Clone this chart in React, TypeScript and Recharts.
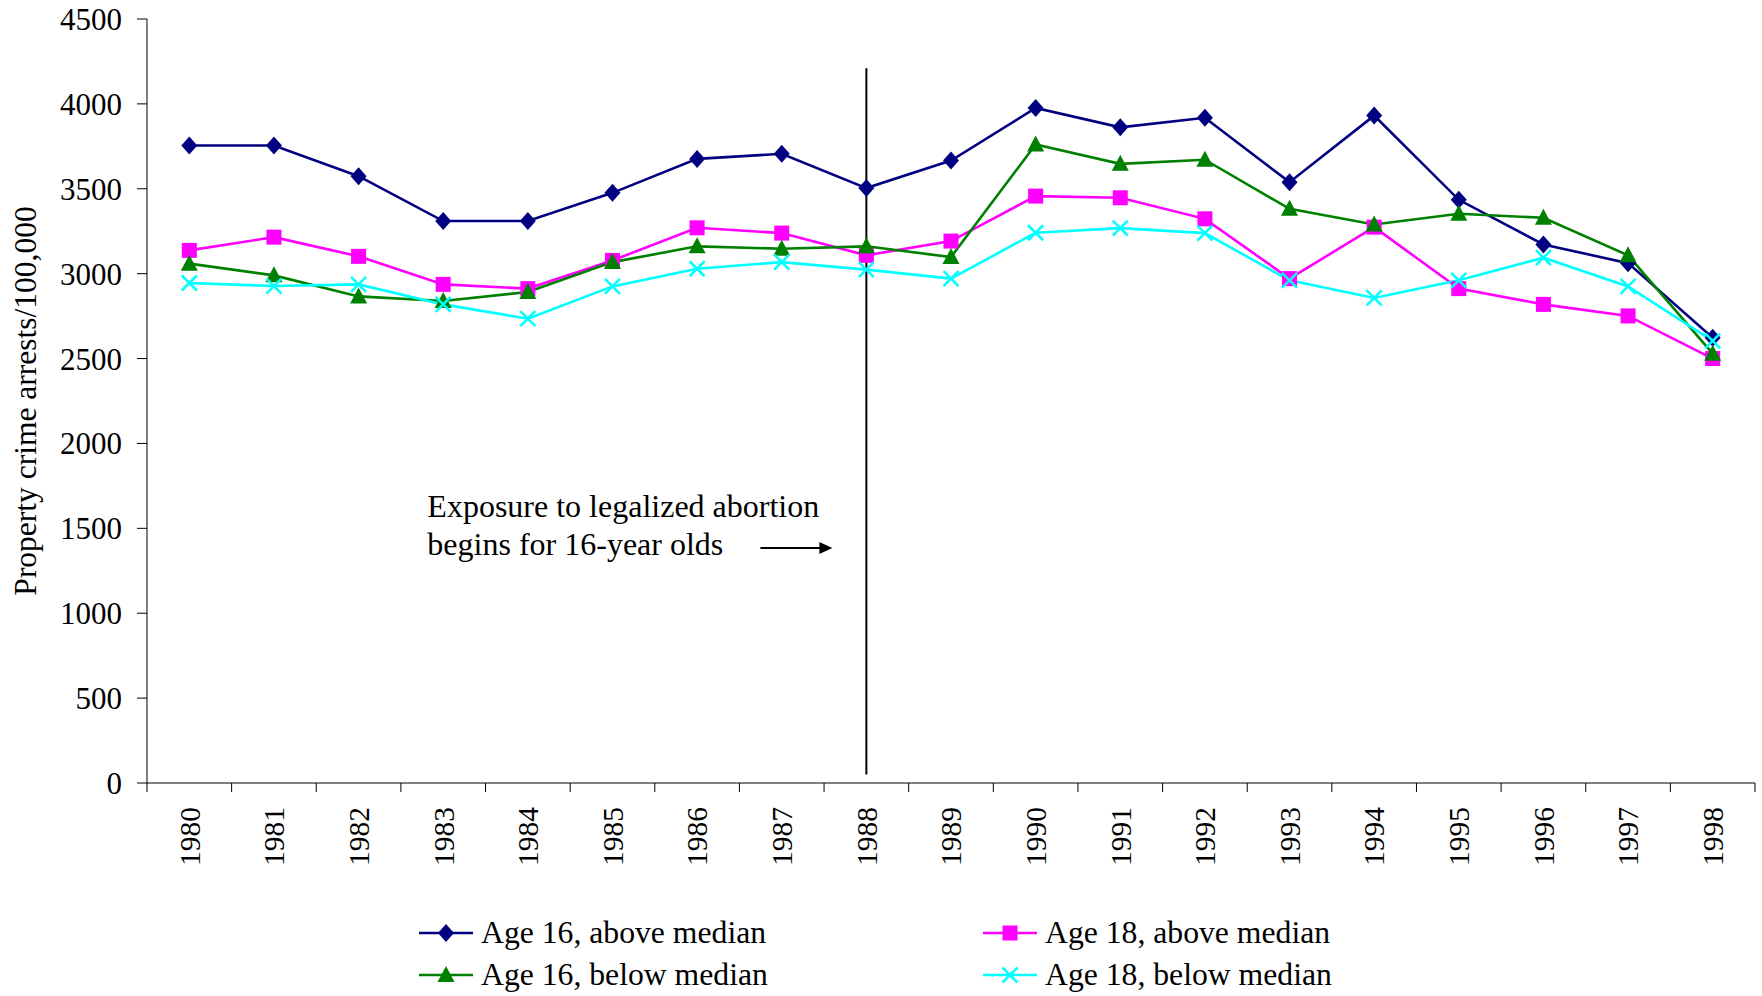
import React from 'react';
import { LineChart, Line, XAxis, YAxis, ReferenceLine, Legend } from 'recharts';

const years = ['1980', '1981', '1982', '1983', '1984', '1985', '1986', '1987', '1988', '1989',
  '1990', '1991', '1992', '1993', '1994', '1995', '1996', '1997', '1998'];
const age16Above = [3755, 3755, 3574, 3310, 3310, 3476, 3676, 3706, 3504, 3666, 3976, 3862, 3918, 3539, 3931, 3435, 3172, 3062, 2623];
const age18Above = [3137, 3215, 3102, 2937, 2912, 3078, 3270, 3239, 3108, 3192, 3457, 3447, 3323, 2971, 3274, 2912, 2819, 2751, 2500];
const age16Below = [3059, 2990, 2866, 2839, 2892, 3068, 3161, 3147, 3161, 3098, 3761, 3647, 3671, 3382, 3290, 3353, 3329, 3108, 2529];
const age18Below = [2945, 2927, 2937, 2819, 2735, 2925, 3029, 3068, 3024, 2971, 3241, 3268, 3239, 2961, 2857, 2961, 3094, 2925, 2604];
const yTicks = [0, 500, 1000, 1500, 2000, 2500, 3000, 3500, 4000, 4500];

const FONT = '"Liberation Serif", "Times New Roman", serif';
const W = 1762;
const H = 996;
const M = { top: 19, right: 7, left: 0, bottom: 0 };
const Y_AXIS_W = 147;
const X_AXIS_H = 213;
const PLOT_W = W - M.left - M.right - Y_AXIS_W;
const HALF_BAND = PLOT_W / years.length / 2;

const data = years.map((year, i) => ({
  year,
  a16: age16Above[i],
  a18: age18Above[i],
  b16: age16Below[i],
  b18: age18Below[i],
}));

type Shape = 'diamond' | 'square' | 'triangle' | 'cross';

const series: { key: string; name: string; color: string; shape: Shape }[] = [
  { key: 'a16', name: 'Age 16, above median', color: '#000080', shape: 'diamond' },
  { key: 'a18', name: 'Age 18, above median', color: '#FF00FF', shape: 'square' },
  { key: 'b16', name: 'Age 16, below median', color: '#008000', shape: 'triangle' },
  { key: 'b18', name: 'Age 18, below median', color: '#00FFFF', shape: 'cross' },
];

function marker(shape: Shape, cx: number, cy: number, color: string, key?: string) {
  if (shape === 'diamond') {
    return <polygon key={key} points={`${cx},${cy - 9} ${cx + 8},${cy} ${cx},${cy + 9} ${cx - 8},${cy}`} fill={color} />;
  }
  if (shape === 'square') {
    return <rect key={key} x={cx - 7.5} y={cy - 7.5} width={15} height={15} fill={color} />;
  }
  if (shape === 'triangle') {
    return <polygon key={key} points={`${cx},${cy - 9} ${cx + 8.5},${cy + 7} ${cx - 8.5},${cy + 7}`} fill={color} />;
  }
  return (
    <g key={key}>
      <line x1={cx - 7.5} y1={cy - 7.5} x2={cx + 7.5} y2={cy + 7.5} stroke={color} strokeWidth={2.5} />
      <line x1={cx - 7.5} y1={cy + 7.5} x2={cx + 7.5} y2={cy - 7.5} stroke={color} strokeWidth={2.5} />
    </g>
  );
}

function YearTick(props: any) {
  const { x, y, payload, index } = props;
  return (
    <g>
      <line x1={x - HALF_BAND} y1={y} x2={x - HALF_BAND} y2={y + 9} stroke="#000" />
      {index === years.length - 1 && (
        <line x1={x + HALF_BAND} y1={y} x2={x + HALF_BAND} y2={y + 9} stroke="#000" />
      )}
      <text
        transform={`translate(${x},${y + 24}) rotate(-90)`}
        textAnchor="end"
        dy="0.35em"
        fontFamily={FONT}
        fontSize={29.5}
        fill="#000"
      >
        {payload.value}
      </text>
    </g>
  );
}

function YTitle(props: any) {
  const { viewBox } = props;
  const cx = viewBox.x + 36;
  const cy = viewBox.y + viewBox.height / 2;
  return (
    <text
      transform={`translate(${cx},${cy}) rotate(-90)`}
      textAnchor="middle"
      fontFamily={FONT}
      fontSize={31.5}
      fill="#000"
    >
      Property crime arrests/100,000
    </text>
  );
}

function Annotation(props: any) {
  const { viewBox } = props;
  const lx = viewBox.x;
  return (
    <g fontFamily={FONT} fontSize={32} fill="#000">
      <text x={lx - 439} y={517}>Exposure to legalized abortion</text>
      <text x={lx - 439} y={555}>begins for 16-year olds</text>
      <line x1={lx - 106} y1={548} x2={lx - 46} y2={548} stroke="#000" strokeWidth={2} />
      <polygon points={`${lx - 34},548 ${lx - 47},542 ${lx - 47},554`} fill="#000" />
    </g>
  );
}

function LegendBox() {
  return (
    <div style={{ position: 'relative', width: 900, height: 86, fontFamily: FONT, fontSize: 31.7, color: '#000' }}>
      {series.map((s, i) => {
        const col = i % 2;
        const row = Math.floor(i / 2);
        return (
          <div
            key={s.key}
            style={{
              position: 'absolute',
              left: 9 + col * 564,
              top: 3 + row * 42,
              height: 40,
              display: 'flex',
              alignItems: 'center',
              whiteSpace: 'nowrap',
            }}
          >
            <svg width={54} height={20} style={{ marginRight: 8 }}>
              <line x1={0} y1={10} x2={54} y2={10} stroke={s.color} strokeWidth={2.5} />
              {marker(s.shape, 27, 10, s.color)}
            </svg>
            <span>{s.name}</span>
          </div>
        );
      })}
    </div>
  );
}

export default function App() {
  return (
    <div style={{ position: 'absolute', left: 0, top: 0, background: '#fff' }}>
      <LineChart width={W} height={H} data={data} margin={M}>
        <XAxis
          dataKey="year"
          height={X_AXIS_H}
          padding={{ left: HALF_BAND, right: HALF_BAND }}
          tickSize={0}
          tickMargin={0}
          tickLine={false}
          axisLine={{ stroke: '#000' }}
          interval={0}
          tick={<YearTick />}
        />
        <YAxis
          width={Y_AXIS_W}
          domain={[0, 4500]}
          ticks={yTicks}
          interval={0}
          tickSize={10}
          tickMargin={15}
          axisLine={{ stroke: '#000' }}
          tickLine={{ stroke: '#000' }}
          tick={{ fontFamily: FONT, fontSize: 31, fill: '#000' }}
          label={<YTitle />}
        />
        {series.map((s) => (
          <Line
            key={s.key}
            type="linear"
            dataKey={s.key}
            name={s.name}
            stroke={s.color}
            strokeWidth={2.6}
            isAnimationActive={false}
            dot={(p: any) => marker(s.shape, p.cx, p.cy, s.color, `${s.key}-${p.index}`)}
            activeDot={false}
          />
        ))}
        <ReferenceLine
          segment={[{ x: '1988', y: 50 }, { x: '1988', y: 4210 }]}
          stroke="#000"
          strokeWidth={2}
          label={<Annotation />}
        />
        <Legend
          layout="horizontal"
          verticalAlign="middle"
          align="center"
          wrapperStyle={{ top: 910, left: 410, width: 900, height: 86 }}
          content={<LegendBox />}
        />
      </LineChart>
    </div>
  );
}
